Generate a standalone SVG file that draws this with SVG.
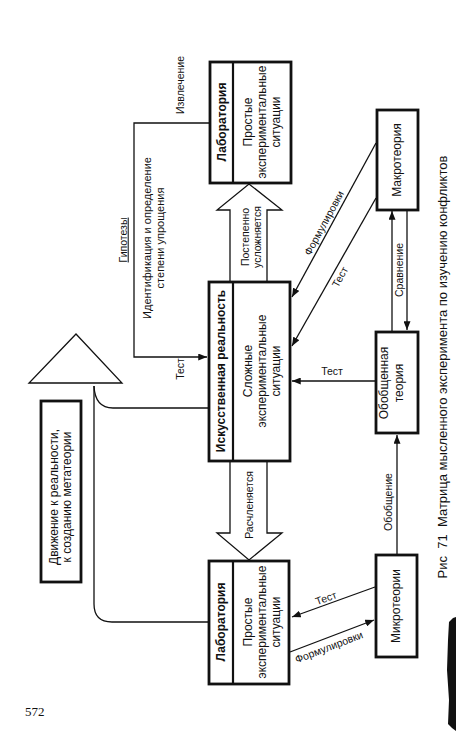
<svg xmlns="http://www.w3.org/2000/svg" width="456" height="731" viewBox="0 0 456 731">
<style>
text{font-family:"Liberation Sans",Arial,sans-serif;fill:#111;}
.box{fill:#fff;stroke:#111;stroke-width:2.8;}
.div{stroke:#111;stroke-width:2.2;fill:none;}
.bt{font-size:12px;font-weight:bold;}
.nt{font-size:12px;}
.lbl{font-size:10.5px;}
.lbl2{font-size:11px;}
.ln{fill:none;stroke:#111;stroke-width:1.3;}
.blk{fill:#fff;stroke:#111;stroke-width:1.3;}
</style>
<defs>
<marker id="ah" viewBox="0 0 10 8" refX="10" refY="4" markerWidth="9" markerHeight="7" markerUnits="userSpaceOnUse" orient="auto">
<path d="M0,0 L10,4 L0,8 Z" fill="#111"/>
</marker>
</defs>
<rect width="456" height="731" fill="#fff"/>

<g id="connectors">
<polyline class="ln" points="210,123 134,123 134,357 207,357" marker-end="url(#ah)"/>
<polygon class="blk" points="230,282 230,210 217,210 249,184 282,210 267,210 267,282"/>
<polygon class="blk" points="230,461 230,533 217,533 249,560 282,533 267,533 267,461"/>
<line class="ln" x1="376" y1="143" x2="292" y2="297" marker-end="url(#ah)"/>
<line class="ln" x1="376" y1="198" x2="292" y2="346" marker-end="url(#ah)"/>
<line class="ln" x1="376" y1="381" x2="292" y2="381" marker-end="url(#ah)"/>
<line class="ln" x1="392" y1="332" x2="392" y2="211" marker-end="url(#ah)"/>
<line class="ln" x1="407" y1="211" x2="407" y2="330" marker-end="url(#ah)"/>
<line class="ln" x1="397" y1="555" x2="397" y2="435" marker-end="url(#ah)"/>
<line class="ln" x1="375" y1="587" x2="292" y2="617" marker-end="url(#ah)"/>
<line class="ln" x1="290" y1="652" x2="374" y2="620" marker-end="url(#ah)"/>
<path class="ln" d="M209,408 L113,408 Q95,408 94,386"/>
<path class="ln" d="M94,386 L94,604 Q94,622 112,622 L209,622"/>
</g>

<g id="labels">
<text class="lbl" transform="translate(180,85) rotate(-90)" text-anchor="middle" dy="0.35em">Извлечение</text>
<text class="lbl" transform="translate(123,240) rotate(-90)" text-anchor="middle" dy="0.35em" text-decoration="underline">Гипотезы</text>
<text class="lbl2" transform="translate(147,238) rotate(-90)" text-anchor="middle" dy="0.35em">Идентификация и определение</text>
<text class="lbl2" transform="translate(160,238) rotate(-90)" text-anchor="middle" dy="0.35em">степени упрощения</text>
<text class="lbl" transform="translate(180,369) rotate(-90)" text-anchor="middle" dy="0.35em">Тест</text>
<text class="lbl" transform="translate(245,237) rotate(-90)" text-anchor="middle" dy="0.35em">Постепенно</text>
<text class="lbl" transform="translate(257,237) rotate(-90)" text-anchor="middle" dy="0.35em">усложняется</text>
<text class="lbl" transform="translate(249,505) rotate(-90)" text-anchor="middle" dy="0.35em">Расчленяется</text>
<text class="lbl" transform="translate(324,223) rotate(-61.5)" text-anchor="middle" dy="0.35em">Формулировки</text>
<text class="lbl" transform="translate(340,277) rotate(-61.5)" text-anchor="middle" dy="0.35em">Тест</text>
<text class="lbl" x="332" y="375" text-anchor="middle">Тест</text>
<text class="lbl" transform="translate(399,270) rotate(-90)" text-anchor="middle" dy="0.35em">Сравнение</text>
<text class="lbl" transform="translate(388,502) rotate(-90)" text-anchor="middle" dy="0.35em">Обобщение</text>
<text class="lbl" transform="translate(326,598) rotate(-20)" text-anchor="middle" dy="0.35em">Тест</text>
<text class="lbl" transform="translate(329,647) rotate(-21)" text-anchor="middle" dy="0.35em">Формулировки</text>
</g>

<g id="lab-top">
<rect class="box" x="210" y="62" width="81" height="121"/>
<line class="div" x1="233" y1="62" x2="233" y2="183"/>
<text class="bt" transform="translate(221.5,122) rotate(-90)" text-anchor="middle" dy="0.35em">Лаборатория</text>
<text class="nt" transform="translate(248,122) rotate(-90)" text-anchor="middle" dy="0.35em">Простые</text>
<text class="nt" transform="translate(262,122) rotate(-90)" text-anchor="middle" dy="0.35em">экспериментальные</text>
<text class="nt" transform="translate(276,122) rotate(-90)" text-anchor="middle" dy="0.35em">ситуации</text>
</g>

<g id="artificial">
<rect class="box" x="209" y="282" width="81" height="179"/>
<line class="div" x1="233" y1="282" x2="233" y2="461"/>
<text class="bt" transform="translate(221,371) rotate(-90)" text-anchor="middle" dy="0.35em">Искусственная реальность</text>
<text class="nt" transform="translate(248,371) rotate(-90)" text-anchor="middle" dy="0.35em">Сложные</text>
<text class="nt" transform="translate(262,371) rotate(-90)" text-anchor="middle" dy="0.35em">экспериментальные</text>
<text class="nt" transform="translate(276,371) rotate(-90)" text-anchor="middle" dy="0.35em">ситуации</text>
</g>

<g id="lab-bottom">
<rect class="box" x="209" y="561" width="80" height="123"/>
<line class="div" x1="233" y1="561" x2="233" y2="684"/>
<text class="bt" transform="translate(221,622) rotate(-90)" text-anchor="middle" dy="0.35em">Лаборатория</text>
<text class="nt" transform="translate(248,622) rotate(-90)" text-anchor="middle" dy="0.35em">Простые</text>
<text class="nt" transform="translate(262,622) rotate(-90)" text-anchor="middle" dy="0.35em">экспериментальные</text>
<text class="nt" transform="translate(276,622) rotate(-90)" text-anchor="middle" dy="0.35em">ситуации</text>
</g>

<g id="macro">
<rect class="box" x="377" y="110" width="41" height="100"/>
<text class="nt" transform="translate(397,160) rotate(-90)" text-anchor="middle" dy="0.35em">Макротеория</text>
</g>

<g id="generalized">
<rect class="box" x="376" y="332" width="42" height="101"/>
<text class="nt" transform="translate(384,383) rotate(-90)" text-anchor="middle" dy="0.35em">Обобщенная</text>
<text class="nt" transform="translate(399,383) rotate(-90)" text-anchor="middle" dy="0.35em">теория</text>
</g>

<g id="micro">
<rect class="box" x="376" y="555" width="41" height="102"/>
<text class="nt" transform="translate(396,606) rotate(-90)" text-anchor="middle" dy="0.35em">Микротеории</text>
</g>

<g id="triangle">
<polygon points="76,334 29,383 122,383" fill="#fff" stroke="#111" stroke-width="1.3"/>
</g>

<g id="metatheory">
<rect class="box" x="41" y="401" width="40" height="181"/>
<text class="nt" transform="translate(54,497) rotate(-90)" text-anchor="middle" dy="0.35em">Движение к реальности,</text>
<text class="nt" transform="translate(67,497) rotate(-90)" text-anchor="middle" dy="0.35em">к созданию метатеории</text>
</g>

<text transform="translate(442,367) rotate(-90)" text-anchor="middle" dy="0.35em" font-size="13px" xml:space="preserve">Рис  71  Матрица мысленного эксперимента по изучению конфликтов</text>
<text x="25" y="716" font-size="13px" style="font-family:'Liberation Serif',serif">572</text>
<path d="M449,622 L453,618 L456,617 L456,731 L452,728 L448,724 L449,700 L447,670 L448,640 Z" fill="#111"/>
</svg>
